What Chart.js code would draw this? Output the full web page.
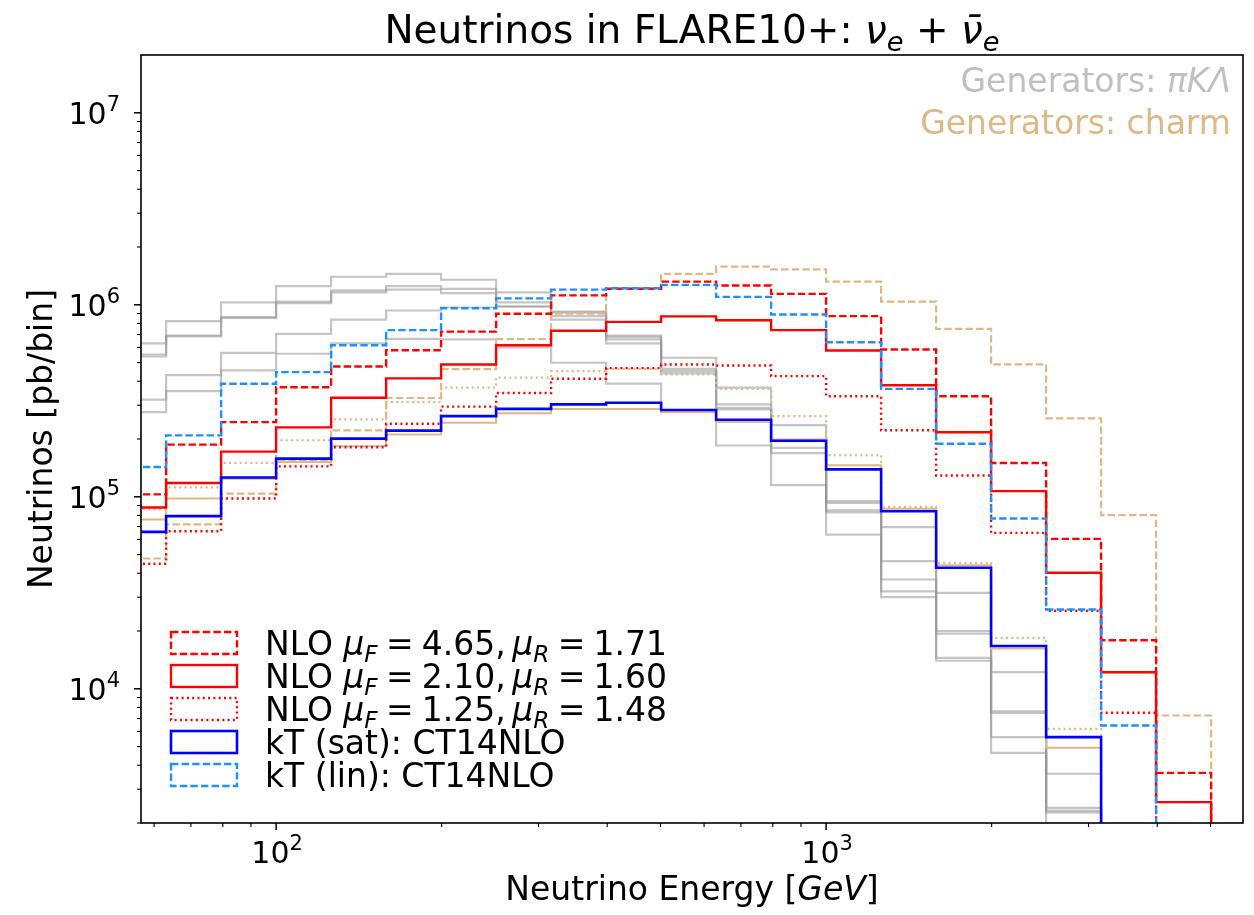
<!DOCTYPE html>
<html>
<head>
<meta charset="utf-8">
<script src="https://cdn.jsdelivr.net/npm/chart.js@4.4.1/dist/chart.umd.min.js"></script>
<style>
  html, body { margin: 0; padding: 0; background: #ffffff; }
  canvas { display: block; }
</style>
</head>
<body>
<canvas id="chart" width="1254" height="915"></canvas>
<script>
// Bin edges in GeV: 10^(k/10), k = 17 ... 37
const binEdges = [50.12, 63.10, 79.43, 100.0, 125.9, 158.5, 199.5, 251.2, 316.2, 398.1,
                  501.2, 631.0, 794.3, 1000, 1259, 1585, 1995, 2512, 3162, 3981, 5012];

// Neutrinos per bin [pb/bin]; one entry per bin
const nloHigh = [1.03e5, 1.87e5, 2.45e5, 3.72e5, 4.77e5, 5.80e5, 7.25e5, 8.98e5, 1.12e6, 1.21e6,
                 1.32e6, 1.26e6, 1.14e6, 8.73e5, 5.85e5, 3.34e5, 1.50e5, 6.04e4, 1.79e4, 3.65e3];
const nloMid  = [8.8e4, 1.18e5, 1.72e5, 2.30e5, 3.28e5, 4.14e5, 4.89e5, 6.16e5, 7.32e5, 8.15e5,
                 8.70e5, 8.31e5, 7.38e5, 5.78e5, 3.81e5, 2.17e5, 1.07e5, 4.02e4, 1.22e4, 2.57e3];
const nloLow  = [4.48e4, 6.62e4, 9.8e4, 1.44e5, 1.81e5, 2.40e5, 2.95e5, 3.47e5, 4.12e5, 4.68e5,
                 4.89e5, 4.83e5, 4.25e5, 3.34e5, 2.22e5, 1.29e5, 6.49e4, 2.55e4, 7.5e3, 1.0e3];
const ktSat   = [6.57e4, 7.93e4, 1.26e5, 1.58e5, 2.01e5, 2.21e5, 2.63e5, 2.87e5, 3.03e5, 3.09e5,
                 2.83e5, 2.52e5, 1.96e5, 1.39e5, 8.41e4, 4.27e4, 1.67e4, 5.6e3, 1.0e3, 1.0e3];
const ktLin   = [1.43e5, 2.09e5, 3.88e5, 4.46e5, 6.16e5, 7.38e5, 9.60e5, 1.08e6, 1.20e6, 1.22e6,
                 1.27e6, 1.10e6, 8.9e5, 6.38e5, 3.65e5, 1.89e5, 7.71e4, 2.59e4, 6.44e3, 1.0e3];

const charmDashed = [4.77e4, 7.18e4, 1.04e5, 1.55e5, 2.22e5, 3.27e5, 4.62e5, 6.62e5, 9.0e5, 1.22e6,
                     1.45e6, 1.58e6, 1.53e6, 1.32e6, 1.04e6, 7.5e5, 4.89e5, 2.56e5, 8.02e4, 7.26e3];
const charmDotted = [8.6e4, 1.12e5, 1.50e5, 1.97e5, 2.53e5, 3.11e5, 3.70e5, 4.18e5, 4.51e5, 4.62e5,
                     4.34e5, 3.65e5, 2.63e5, 1.65e5, 8.87e4, 4.53e4, 1.84e4, 6.19e3, 1.0e3, 1.0e3];
const charmSolid  = [7.62e4, 9.8e4, 1.24e5, 1.52e5, 1.84e5, 2.11e5, 2.43e5, 2.72e5, 2.87e5, 2.87e5,
                     2.76e5, 2.45e5, 1.99e5, 1.46e5, 8.66e4, 4.4e4, 1.62e4, 4.93e3, 1.0e3, 1.0e3];

const lightGen1 = [6.29e5, 8.22e5, 1.03e6, 1.25e6, 1.40e6, 1.45e6, 1.35e6, 1.16e6, 9.23e5, 6.92e5,
                   5.30e5, 3.70e5, 2.36e5, 9.5e4, 6.95e4, 3.16e4, 1.22e4, 3.61e3, 1.0e3, 1.0e3];
const lightGen2 = [5.51e5, 6.92e5, 8.62e5, 1.04e6, 1.19e6, 1.25e6, 1.21e6, 1.03e6, 8.73e5, 6.81e5,
                   4.64e5, 3.03e5, 1.95e5, 9.3e4, 4.62e4, 2.0e4, 7.64e3, 2.40e3, 1.0e3, 1.0e3];
const lightGen3 = [5.38e5, 6.85e5, 8.54e5, 1.02e6, 1.16e6, 1.20e6, 1.15e6, 9.8e5, 8.38e5, 6.29e5,
                   4.51e5, 2.91e5, 1.80e5, 8.3e4, 3.71e4, 1.94e4, 7.5e3, 2.32e3, 1.0e3, 1.0e3];
const lightGen4 = [3.21e5, 4.30e5, 5.62e5, 7.06e5, 8.38e5, 9.34e5, 9.68e5, 9.8e5, 9.1e5, 6.6e5,
                   4.39e5, 2.85e5, 1.69e5, 8.5e4, 3.22e4, 1.45e4, 5.6e3, 2.27e3, 1.0e3, 1.0e3];
const lightGen5 = [2.76e5, 3.55e5, 4.55e5, 5.56e5, 6.29e5, 6.64e5, 6.6e5, 6.0e5, 4.99e5, 3.89e5,
                   2.82e5, 1.85e5, 1.15e5, 6.36e4, 3.0e4, 1.4e4, 4.64e3, 1.9e3, 1.0e3, 1.0e3];

// Axis tick positions
const xMajorTicks = [100, 1000];
const xMinorTicks = [60, 70, 80, 90, 200, 300, 400, 500, 600, 700, 800, 900, 2000, 3000, 4000, 5000];
const yMajorTicks = [1e4, 1e5, 1e6, 1e7];
const yMinorTicks = [2e3, 3e3, 4e3, 5e3, 6e3, 7e3, 8e3, 9e3, 2e4, 3e4, 4e4, 5e4, 6e4, 7e4, 8e4, 9e4,
                     2e5, 3e5, 4e5, 5e5, 6e5, 7e5, 8e5, 9e5, 2e6, 3e6, 4e6, 5e6, 6e6, 7e6, 8e6, 9e6];

const RED = '#ff0000', BLUE = '#0000ff', DODGER = '#1e90ff', TAN = '#deb887';
const GREY = 'rgba(150,150,150,0.55)';
const DASH = [7.4, 3.2], DOT = [2, 3.3];
const FONT = '"DejaVu Sans", "Noto Sans", sans-serif';

// Closed step outline: each value holds to the next edge, then falls below the axis
function histogramPoints(values) {
  const pts = values.map((v, i) => ({ x: binEdges[i], y: v }));
  const n = values.length;
  pts.push({ x: binEdges[n], y: values[n - 1] });
  pts.push({ x: binEdges[n], y: 1 });
  return pts;
}

function series(label, values, color, width, dash, order) {
  return {
    label, data: histogramPoints(values),
    borderColor: color, backgroundColor: color, borderWidth: width, borderDash: dash,
    stepped: 'before', pointRadius: 0, pointHoverRadius: 0, fill: false, tension: 0,
    borderCapStyle: 'butt', borderJoinStyle: 'miter', order, clip: 0
  };
}

const datasets = [
  series('kT (lin): CT14NLO', ktLin, DODGER, 2.4, DASH, 0),
  series('kT (sat): CT14NLO', ktSat, BLUE, 2.6, [], 1),
  series('NLO 1.25/1.48', nloLow, RED, 2.4, DOT, 2),
  series('NLO 2.10/1.60', nloMid, RED, 2.4, [], 3),
  series('NLO 4.65/1.71', nloHigh, RED, 2.4, DASH, 4),
  series('charm dashed', charmDashed, TAN, 2.2, DASH, 5),
  series('charm dotted', charmDotted, TAN, 2.2, DOT, 6),
  series('charm solid', charmSolid, TAN, 2.0, [], 7),
  series('light 1', lightGen1, GREY, 2.2, [], 8),
  series('light 2', lightGen2, GREY, 2.2, [], 9),
  series('light 3', lightGen3, GREY, 2.2, [], 10),
  series('light 4', lightGen4, GREY, 2.2, [], 11),
  series('light 5', lightGen5, GREY, 2.2, [], 12)
];

// Text with italic, subscript and superscript pieces
function drawRich(ctx, runs, x, y, size, align, color) {
  const parts = runs.map(r => {
    const s = (r.sub || r.sup) ? size * 0.7 : size;
    const font = (r.it ? 'italic ' : '') + s.toFixed(2) + 'px ' + FONT;
    ctx.font = font;
    return { t: r.t, font, w: ctx.measureText(r.t).width,
             dy: r.sub ? size * 0.2 : (r.sup ? -size * 0.42 : 0) };
  });
  const total = parts.reduce((a, p) => a + p.w, 0);
  let cx = align === 'center' ? x - total / 2 : (align === 'right' ? x - total : x);
  ctx.fillStyle = color;
  ctx.textAlign = 'left';
  ctx.textBaseline = 'alphabetic';
  for (const p of parts) {
    ctx.font = p.font;
    ctx.fillText(p.t, cx, y + p.dy);
    cx += p.w;
  }
  return total;
}

// math-style spacing: medium space around relations, thin space after a comma
const EQ = '\u2005=\u2005';
const legendEntries = [
  { ds: 4, runs: [{ t: 'NLO ' }, { t: 'μ', it: 1 }, { t: 'F', it: 1, sub: 1 }, { t: EQ + '4.65,\u2009' }, { t: 'μ', it: 1 }, { t: 'R', it: 1, sub: 1 }, { t: EQ + '1.71' }] },
  { ds: 3, runs: [{ t: 'NLO ' }, { t: 'μ', it: 1 }, { t: 'F', it: 1, sub: 1 }, { t: EQ + '2.10,\u2009' }, { t: 'μ', it: 1 }, { t: 'R', it: 1, sub: 1 }, { t: EQ + '1.60' }] },
  { ds: 2, runs: [{ t: 'NLO ' }, { t: 'μ', it: 1 }, { t: 'F', it: 1, sub: 1 }, { t: EQ + '1.25,\u2009' }, { t: 'μ', it: 1 }, { t: 'R', it: 1, sub: 1 }, { t: EQ + '1.48' }] },
  { ds: 1, runs: [{ t: 'kT (sat): CT14NLO' }] },
  { ds: 0, runs: [{ t: 'kT (lin): CT14NLO' }] }
];

const decorations = {
  id: 'decorations',
  afterDraw(chart) {
    const ctx = chart.ctx;
    const a = chart.chartArea;
    const xs = chart.scales.x, ys = chart.scales.y;
    ctx.save();

    // frame
    ctx.strokeStyle = '#000';
    ctx.lineWidth = 1.6;
    ctx.setLineDash([]);
    ctx.strokeRect(a.left, a.top, a.right - a.left, a.bottom - a.top);

    // ticks
    const tick = (x1, y1, x2, y2, w) => {
      ctx.lineWidth = w; ctx.beginPath(); ctx.moveTo(x1, y1); ctx.lineTo(x2, y2); ctx.stroke();
    };
    xMajorTicks.forEach(v => { const p = xs.getPixelForValue(v); tick(p, a.bottom, p, a.bottom + 7, 1.5); });
    xMinorTicks.forEach(v => { const p = xs.getPixelForValue(v); tick(p, a.bottom, p, a.bottom + 4, 1.1); });
    yMajorTicks.forEach(v => { const p = ys.getPixelForValue(v); tick(a.left, p, a.left - 7, p, 1.5); });
    yMinorTicks.forEach(v => { const p = ys.getPixelForValue(v); tick(a.left, p, a.left - 4, p, 1.1); });

    // tick labels
    xMajorTicks.forEach(v => {
      const e = Math.round(Math.log10(v));
      drawRich(ctx, [{ t: '10' }, { t: String(e), sup: 1 }], xs.getPixelForValue(v) + 1, a.bottom + 40, 30, 'center', '#000');
    });
    yMajorTicks.forEach(v => {
      const e = Math.round(Math.log10(v));
      drawRich(ctx, [{ t: '10' }, { t: String(e), sup: 1 }], a.left - 21, ys.getPixelForValue(v) + 11, 30, 'right', '#000');
    });

    // axis titles
    drawRich(ctx, [{ t: 'Neutrino Energy [' }, { t: 'GeV', it: 1 }, { t: ']' }], (a.left + a.right) / 2, 900, 33, 'center', '#000');
    ctx.save();
    ctx.translate(52, (a.top + a.bottom) / 2);
    ctx.rotate(-Math.PI / 2);
    drawRich(ctx, [{ t: 'Neutrinos [pb/bin]' }], 0, 0, 33, 'center', '#000');
    ctx.restore();

    // chart title
    drawRich(ctx, [{ t: 'Neutrinos in FLARE10+: ' }, { t: 'ν', it: 1 }, { t: 'e', it: 1, sub: 1 },
                   { t: ' + ' }, { t: 'ν\u0304', it: 1 }, { t: 'e', it: 1, sub: 1 }],
             (a.left + a.right) / 2, 43, 39, 'center', '#000');

    // generator notes
    drawRich(ctx, [{ t: 'Generators: ' }, { t: 'πKΛ', it: 1 }], 1231, 92, 33, 'right', '#c0c0c0');
    drawRich(ctx, [{ t: 'Generators: charm' }], 1231, 134, 33, 'right', TAN);

    // legend
    legendEntries.forEach((en, i) => {
      const ds = chart.data.datasets[en.ds];
      const cy = 643 + i * 33;
      ctx.strokeStyle = ds.borderColor;
      ctx.lineWidth = ds.borderWidth;
      ctx.setLineDash(ds.borderDash || []);
      ctx.strokeRect(171, cy - 11, 66, 22);
      ctx.setLineDash([]);
      drawRich(ctx, en.runs, 265, cy + 12, 33, 'left', '#000');
    });

    ctx.restore();
  }
};

new Chart(document.getElementById('chart'), {
  type: 'line',
  data: { datasets },
  options: {
    responsive: false,
    animation: false,
    devicePixelRatio: 1,
    layout: { padding: { top: 55, right: 11, bottom: 0, left: 0 } },
    plugins: { legend: { display: false }, title: { display: false }, tooltip: { enabled: false } },
    events: [],
    scales: {
      x: {
        type: 'logarithmic', min: 56.8, max: 5728,
        grid: { display: false, drawTicks: false }, border: { display: false },
        ticks: { display: false },
        afterFit(s) { s.height = 92; }
      },
      y: {
        type: 'logarithmic', min: 2000, max: 2e7,
        grid: { display: false, drawTicks: false }, border: { display: false },
        ticks: { display: false },
        afterFit(s) { s.width = 141; }
      }
    }
  },
  plugins: [decorations]
});
</script>
</body>
</html>
